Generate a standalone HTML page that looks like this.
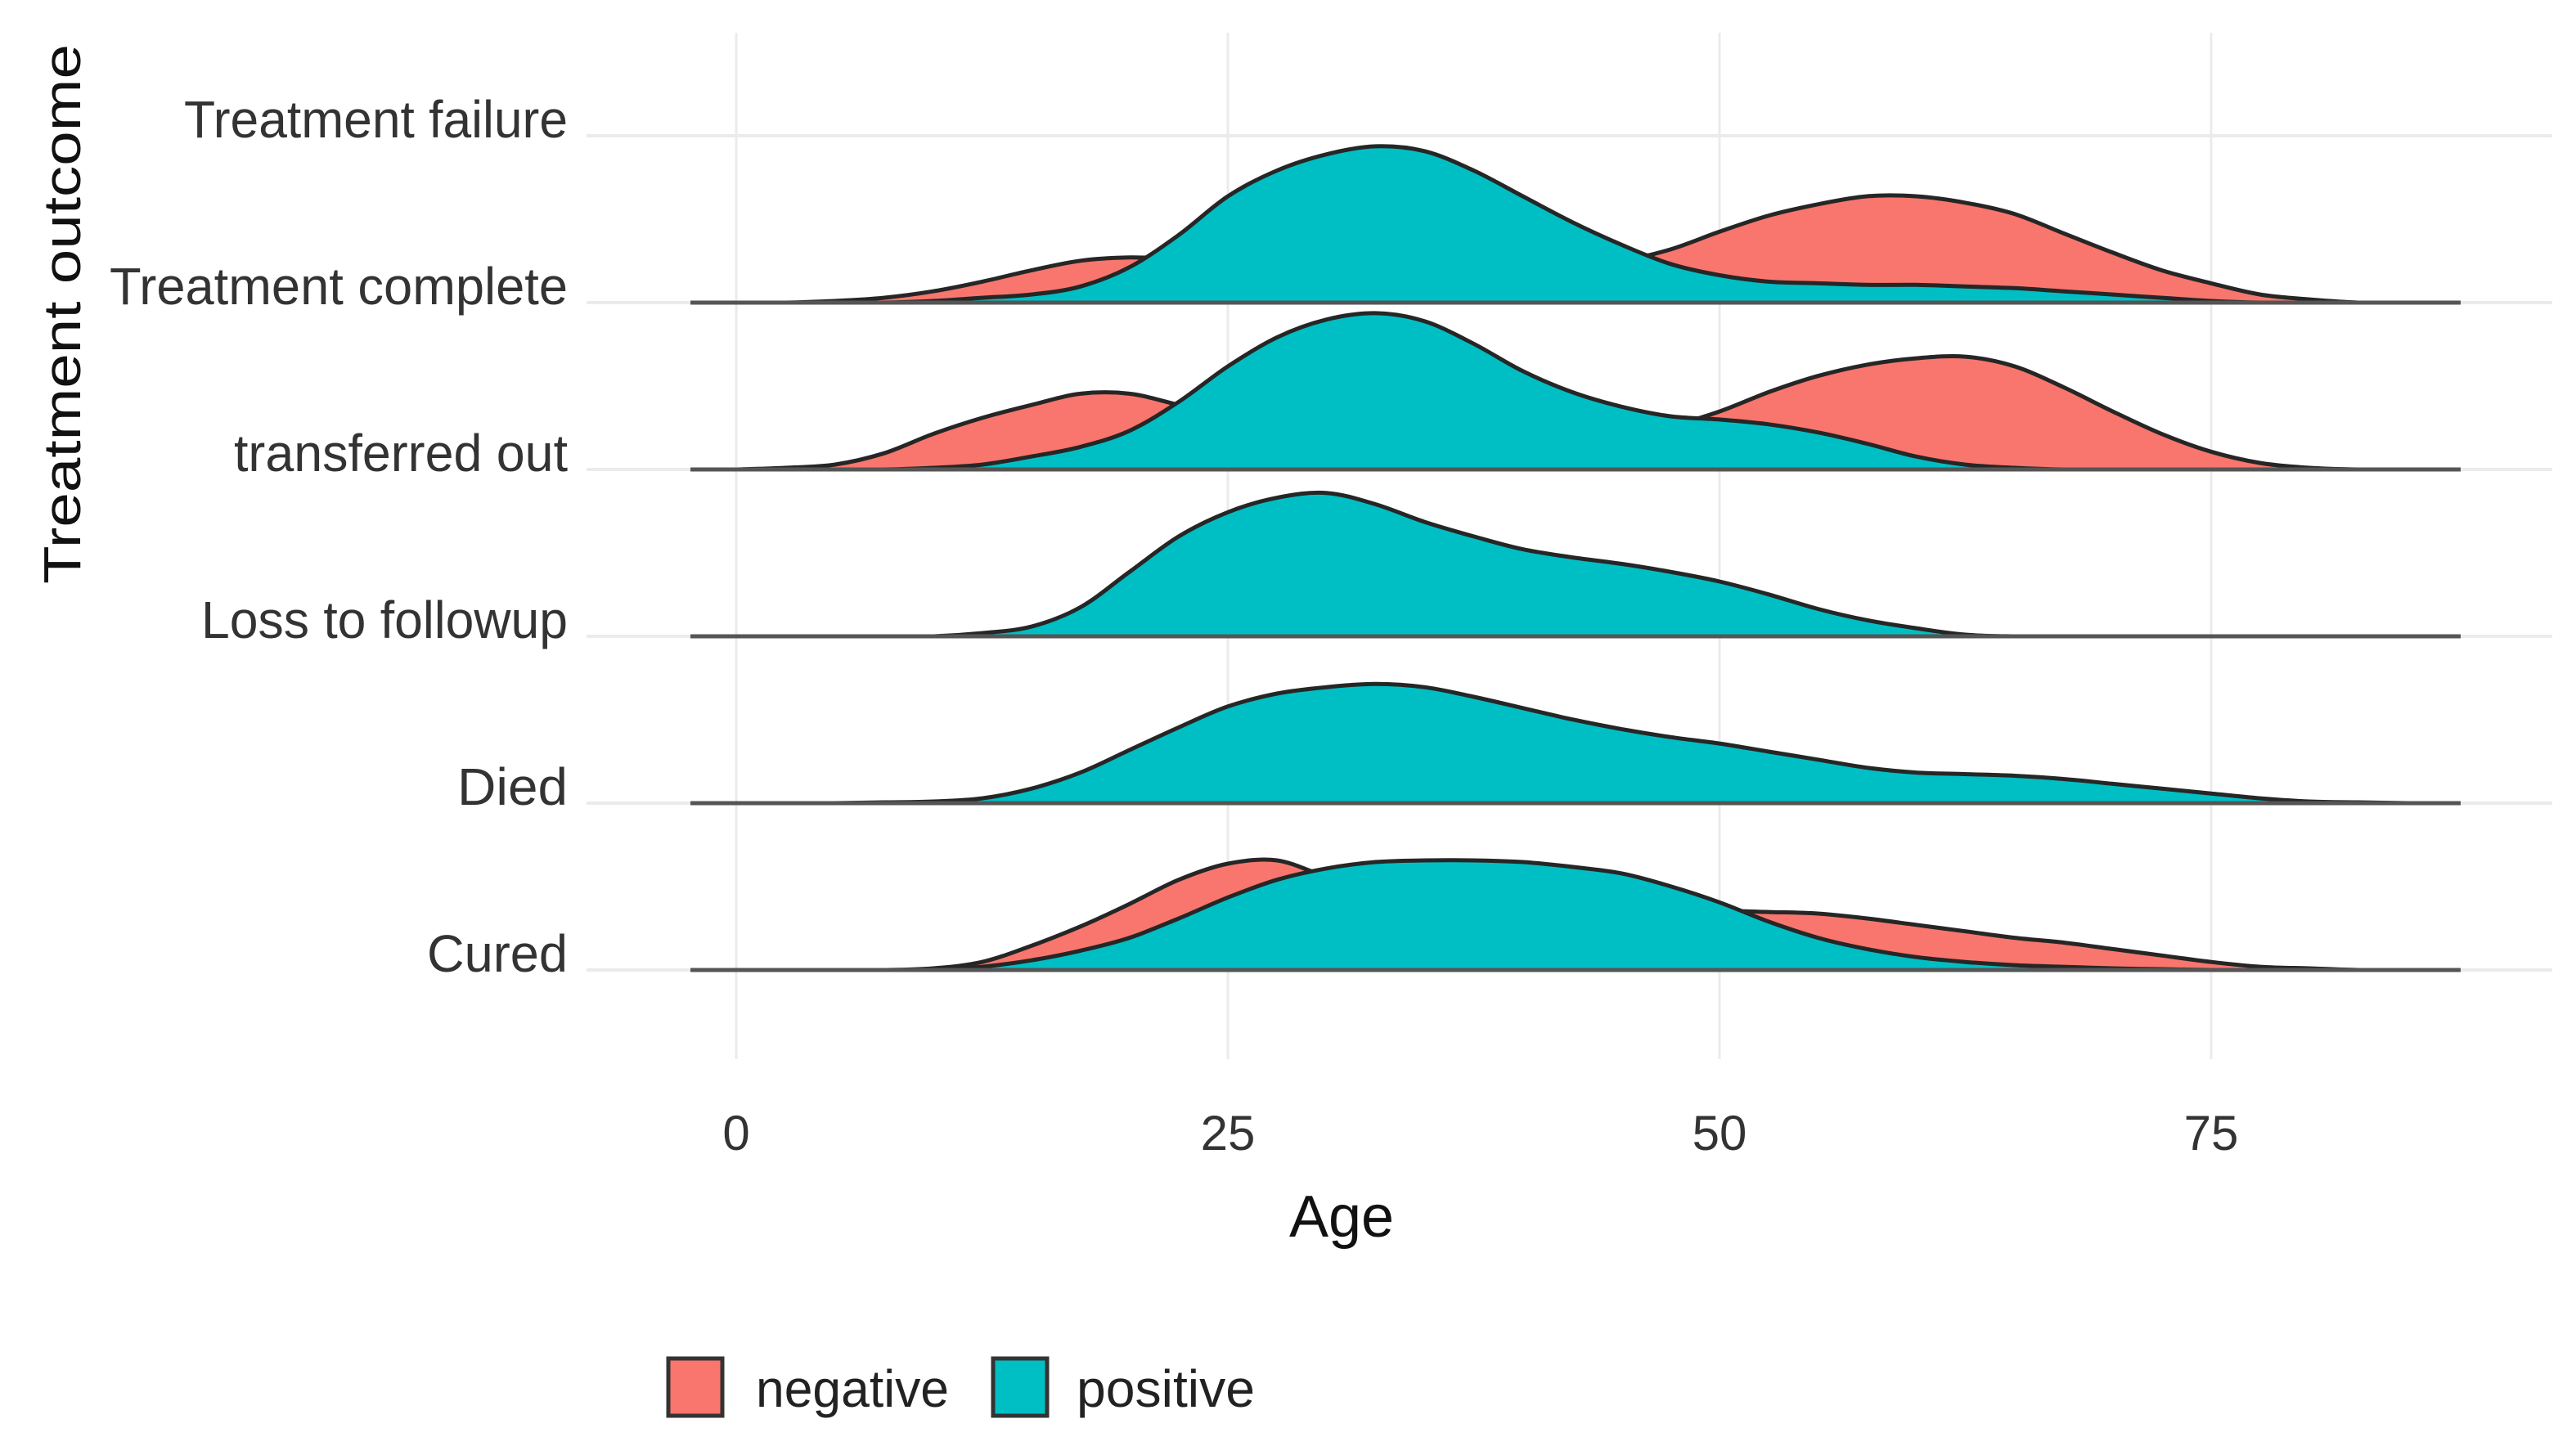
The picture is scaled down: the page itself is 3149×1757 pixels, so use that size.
<!DOCTYPE html>
<html><head><meta charset="utf-8"><style>
html,body{margin:0;padding:0;background:#fff;}
svg{display:block;font-family:"Liberation Sans",sans-serif;}
</style></head><body>
<svg id="chart" width="3149" height="1757" viewBox="0 0 3149 1757">
<g id="grid"></g>
<g id="ridges"></g>
<g id="ylabels"></g>
<g id="xlabels"></g>
<text x="1640" y="1512" font-size="72" text-anchor="middle" fill="#111">Age</text>
<text transform="translate(98,384) rotate(-90)" font-size="64" text-anchor="middle" fill="#111" textLength="660" lengthAdjust="spacingAndGlyphs">Treatment outcome</text>
<g>
<g>
<rect x="817" y="1661" width="66" height="70" fill="#F8766D" stroke="#333" stroke-width="5"/>
<text x="924" y="1720" font-size="64" fill="#222" textLength="236" lengthAdjust="spacingAndGlyphs">negative</text>
</g>
<g>
<rect x="1214" y="1661" width="66" height="70" fill="#00BFC4" stroke="#333" stroke-width="5"/>
<text x="1316" y="1720" font-size="64" fill="#222" textLength="218" lengthAdjust="spacingAndGlyphs">positive</text>
</g>
</g>
</svg>
<script>
const categories = ["Cured","Died","Loss to followup","transferred out","Treatment complete","Treatment failure"];
const labelWidths = [172,135,448,408,560,469];
const xTicks = [0,25,50,75];
const ages = [0,2.5,5,7.5,10,12.5,15,17.5,20,22.5,25,27.5,30,32.5,35,37.5,40,42.5,45,47.5,50,52.5,55,57.5,60,62.5,65,67.5,70,72.5,75,77.5,80,82.5,85];
const curedNeg = [0,0,0,0,1,5,15,27,41,56,66,68,58,50,46,45,45,44,42,39,37,36,35,32,28,24,20,17,13,9,5,2,1,0,0];
const curedPos = [0,0,0,0,0,2,6,12,20,32,45,56,63,67,68,68,67,64,60,52,42,30,20,13,8,5,3,2,1,0.5,0,0,0,0,0];
const diedPos = [0,0,0,0.5,1,3,9,19,33,47,60,68,72,74,72,66,59,52,46,41,37,32,27,22,19,18,17,15,12,9,6,3,1,0.5,0];
const lossPos = [0,0,0,0,0,2,6,18,40,62,77,86,89,82,71,62,54,49,45,40,34,26,17,10,5,1,0,0,0,0,0,0,0,0,0];
const transNeg = [0,1,3,10,22,32,40,47,47,40,32,25,20,16,14,14,15,18,22,27,36,48,58,65,69,70,64,51,36,22,11,4,1,0,0];
const transPos = [0,0,0,0,1,3,8,14,24,42,64,82,93,97,92,78,61,48,39,33,31,28,23,16,8,3,1,0,0,0,0,0,0,0,0];
const compNeg = [0,0,1,3,7,13,20,26,28,27,25,22,20,19,19,20,22,24,26,33,44,54,61,66,66,62,55,43,31,20,12,5,2,0,0];
const compPos = [0,0,0,0,1,3,5,10,22,42,66,82,92,97,94,82,66,50,36,24,17,13,12,11,11,10,9,7,5,3,1,0,0,0,0];
const seriesByRow = {
  "Cured": [["negative", curedNeg], ["positive", curedPos]],
  "Died": [["positive", diedPos]],
  "Loss to followup": [["positive", lossPos]],
  "transferred out": [["negative", transNeg], ["positive", transPos]],
  "Treatment complete": [["negative", compNeg], ["positive", compPos]],
  "Treatment failure": []
};
const colors = {negative:"#F8766D", positive:"#00BFC4"};
const NS = "http://www.w3.org/2000/svg";
function xs(v){ return 900 + v*24.04; }
function rowY(i){ return 1186 - i*204; }
function hs(v){ return v*1.97; }

const grid = document.getElementById('grid');
xTicks.forEach(t=>{
  const l=document.createElementNS(NS,'line');
  l.setAttribute('x1',xs(t));l.setAttribute('x2',xs(t));l.setAttribute('y1',40);l.setAttribute('y2',1295);
  l.setAttribute('stroke','#ebebeb');l.setAttribute('stroke-width','3');
  
  
  grid.appendChild(l);
  const tx=document.createElementNS(NS,'text');
  tx.setAttribute('x',xs(t));tx.setAttribute('y',1406);tx.setAttribute('font-size','60');
  tx.setAttribute('text-anchor','middle');tx.setAttribute('fill','#333');
  tx.textContent=t;
  
  
  document.getElementById('xlabels').appendChild(tx);
});
categories.forEach((c,i)=>{
  const y=rowY(i);
  const l=document.createElementNS(NS,'line');
  l.setAttribute('x1',717);l.setAttribute('x2',3120);l.setAttribute('y1',y);l.setAttribute('y2',y);
  l.setAttribute('stroke','#ebebeb');l.setAttribute('stroke-width','4');
  
  
  grid.appendChild(l);
  const tx=document.createElementNS(NS,'text');
  tx.setAttribute('x',694);tx.setAttribute('y',y+2);tx.setAttribute('font-size','64');
  tx.setAttribute('text-anchor','end');tx.setAttribute('fill','#333');
  tx.setAttribute('textLength', labelWidths[i]);
  tx.setAttribute('lengthAdjust','spacingAndGlyphs');
  tx.textContent=c;
  
  
  document.getElementById('ylabels').appendChild(tx);
});

function smoothPath(pts){
  let d='M'+pts[0][0]+','+pts[0][1];
  for(let i=0;i<pts.length-1;i++){
    const p0=pts[Math.max(i-1,0)],p1=pts[i],p2=pts[i+1],p3=pts[Math.min(i+2,pts.length-1)];
    const c1x=p1[0]+(p2[0]-p0[0])/6,c1y=Math.min(p1[1]+(p2[1]-p0[1])/6, pts.base);
    const c2x=p2[0]-(p3[0]-p1[0])/6,c2y=Math.min(p2[1]-(p3[1]-p1[1])/6, pts.base);
    d+=' C'+c1x.toFixed(1)+','+c1y.toFixed(1)+' '+c2x.toFixed(1)+','+c2y.toFixed(1)+' '+p2[0].toFixed(1)+','+p2[1].toFixed(1);
  }
  return d;
}
const ridges=document.getElementById('ridges');
for(let i=categories.length-1;i>=0;i--){
  const c=categories[i], base=rowY(i);
  const g=document.createElementNS(NS,'g');
  
  
  ridges.appendChild(g);
  seriesByRow[c].forEach(([grp,vals])=>{
    const pts=ages.map((a,k)=>[xs(a), base-hs(vals[k])]);
    pts.base=base;
    const d=smoothPath(pts)+' L'+xs(ages[ages.length-1])+','+base+' L'+xs(ages[0])+','+base+' Z';
    const p=document.createElementNS(NS,'path');
    p.setAttribute('d',d);p.setAttribute('fill',colors[grp]);
    p.setAttribute('stroke','#262626');p.setAttribute('stroke-width','5');p.setAttribute('stroke-linejoin','round');
    
    
    g.appendChild(p);
  });
  const bl=document.createElementNS(NS,'line');
  bl.setAttribute('x1',844);bl.setAttribute('x2',3008);bl.setAttribute('y1',base);bl.setAttribute('y2',base);
  bl.setAttribute('stroke', seriesByRow[c].length? '#555':'none');bl.setAttribute('stroke-width','5');
  
  
  g.appendChild(bl);
}
</script>
</body></html>
